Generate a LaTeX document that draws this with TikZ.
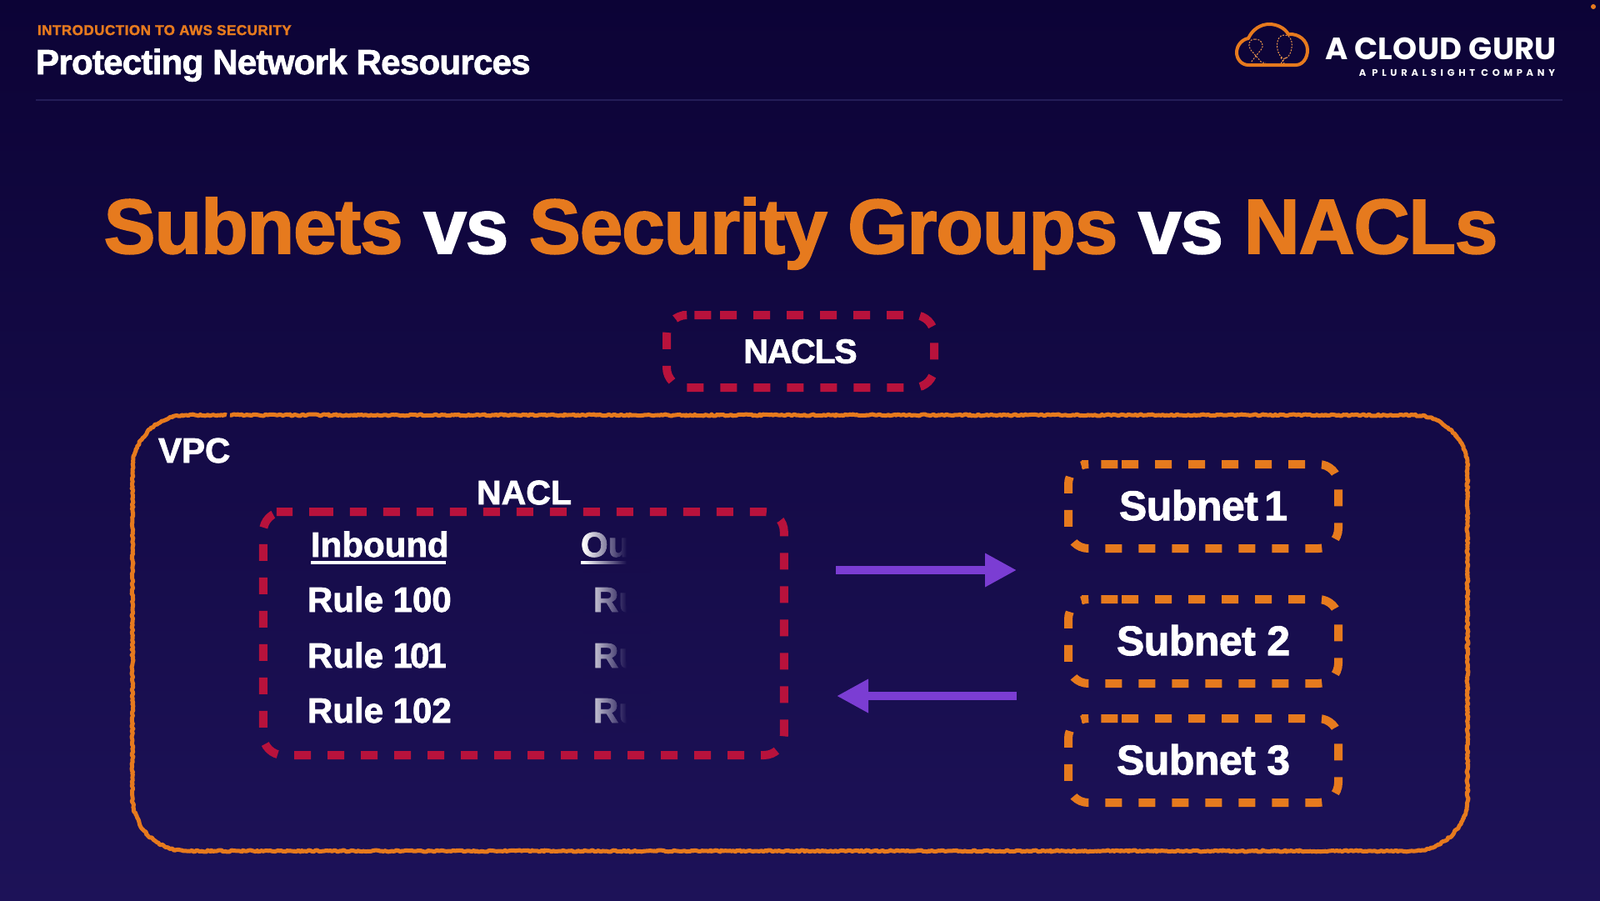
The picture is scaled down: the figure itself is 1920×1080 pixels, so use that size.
\documentclass[tikz,border=0pt]{standalone}
\usepackage{xcolor}
\usepackage{fontspec}
\setmainfont{Liberation Sans}
\setsansfont{Liberation Sans}[BoldFeatures={FakeBold=1.8}]
\newfontfamily\logofont{Poppins}
\usepackage{tikz}
\usetikzlibrary{
    arrows.meta, decorations.pathmorphing, fadings
}
\definecolor{slideTop}{HTML}{0c0336}
\definecolor{slideBottom}{HTML}{1d1258}
\colorlet{wipeTop}{slideBottom!58!slideTop}
\colorlet{wipeBottom}{slideBottom!81!slideTop}
\definecolor{accent}{HTML}{e67a1e}
\definecolor{naclred}{HTML}{b8123c}
\definecolor{flowpurple}{HTML}{7b3dd3}
\definecolor{divider}{HTML}{241d58}

\begin{document}
\begin{tikzpicture}[x=1pt, y=-1pt,
    every node/.style={font=\sffamily\bfseries, text=white, inner sep=0pt, outer sep=0pt},
    dashframe/.style={
        rounded corners=24pt, line width=10pt,
        dash pattern=on 20pt off 20pt,
    },
    subnetbox/.style={
        rectangle, minimum width=324pt, minimum height=101pt, text depth=3pt,
        font=\fontsize{50}{56}\selectfont\sffamily\bfseries\addfontfeature{LetterSpace=-1},
    },
    ruletext/.style={
        anchor=base west,
        font=\fontsize{42}{46}\selectfont\sffamily\bfseries,
    },
    flowarrow/.style={
        draw=flowpurple, line width=10pt,
        -{Triangle[length=38pt, width=38pt]},
    },
]

% ── Slide background ───────────────────────────────────────────────────
\shade[top color=slideTop, bottom color=slideBottom] (0,0) rectangle (1920,1080);
\useasboundingbox (0,0) rectangle (1920,1080);

% ── Header ─────────────────────────────────────────────────────────────
\node[anchor=base west, text=accent, font=\fontsize{17}{20}\selectfont\sffamily\bfseries\addfontfeature{LetterSpace=3}]
    (kicker) at (45,42) {INTRODUCTION TO AWS SECURITY};
\node[anchor=base west, font=\fontsize{42}{46}\selectfont\sffamily\bfseries\addfontfeature{LetterSpace=-1.7}]
    (slidetitle) at (43,89) {Protecting Network Resources};
\draw[divider, line width=2pt] (43,120) -- (1875,120);

% ── Logo ───────────────────────────────────────────────────────────────
\draw[accent, line width=4pt, line join=round]
    (1498,78) .. controls (1490,78) and (1484,71) .. (1484,63)
    .. controls (1484,54) and (1491,47) .. (1498,46)
    .. controls (1503,35) and (1513,29) .. (1523,29)
    .. controls (1533,29) and (1542,34) .. (1546,41)
    .. controls (1559,40) and (1569,49) .. (1569,60)
    .. controls (1569,70) and (1563,78) .. (1555,78) -- cycle;
\draw[accent!80, line width=1pt, dash pattern=on 2pt off 1.5pt]
    (1541,42) .. controls (1531,42) and (1530,60) .. (1537,68)
    .. controls (1541,73) and (1546,70) .. (1549,62)
    .. controls (1552,52) and (1550,42) .. (1541,42)
    (1537,69) -- (1541,76) (1543,69) -- (1537,76);
\draw[accent!80, line width=1pt, dash pattern=on 2pt off 1.5pt]
    (1506,47) .. controls (1498,47) and (1497,55) .. (1501,60)
    -- (1514,75) (1506,47) .. controls (1514,47) and (1518,54) .. (1513,60)
    -- (1508,66) -- (1501,75) (1515,75) -- (1519,75);
\node[anchor=base west, font=\fontsize{37}{40}\selectfont\logofont\bfseries\addfontfeature{LetterSpace=0.8}]
    (logoname) at (1590,71) {A CLOUD GURU};
\node[anchor=base east, font=\fontsize{11.5}{13}\selectfont\logofont\bfseries\addfontfeature{LetterSpace=41}]
    (logotag) at (1866,91) {A PLURALSIGHT COMPANY};
\fill[accent] (1912,8) circle (3);

% ── Title ──────────────────────────────────────────────────────────────
\node[anchor=base, font=\fontsize{93}{100}\selectfont\sffamily\bfseries\addfontfeature{LetterSpace=-1.4}]
    (maintitle) at (961,304) {\textcolor{accent}{Subnets} vs \textcolor{accent}{Security Groups} vs \textcolor{accent}{NACLs}};

% ── NACLS key ──────────────────────────────────────────────────────────
\node[minimum width=321pt, minimum height=87pt,
      font=\fontsize{41}{46}\selectfont\sffamily\bfseries\addfontfeature{LetterSpace=-3}] (naclskey) at (960.5,421.5) {NACLS};

% ── VPC frame ──────────────────────────────────────────────────────────
\draw[accent, line width=5pt, line join=round,
      decorate, decoration={random steps, segment length=2pt, amplitude=1pt}]
    (276,498) -- (1696,498) arc[start angle=-90, end angle=0, radius=65]
    -- (1761,956) arc[start angle=0, end angle=90, radius=65]
    -- (224,1021) arc[start angle=90, end angle=180, radius=65]
    -- (159,563) arc[start angle=180, end angle=270, radius=65] -- (272,498);
\node[ruletext] (vpclabel) at (190,555) {VPC};

% ── NACL table ─────────────────────────────────────────────────────────
\node[minimum width=625pt, minimum height=292pt] (naclbody) at (628.3,760) {};
\node[font=\fontsize{41}{46}\selectfont\sffamily\bfseries] (nacllabel) at (629,591) {NACL};

\node[ruletext] (inbound) at (373,668) {Inbound};
\draw[white, line width=4pt] (373,675) -- (535,675);
\node[ruletext] (rule100) at (369,734) {Rule 100};
\node[ruletext] (rule101) at (369,801) {Rule 1\kern-3pt 0\kern-3pt 1};
\node[ruletext] (rule102) at (369,867) {Rule 102};

\node[ruletext] (outbound) at (697,668) {Ou};
\draw[white, line width=4pt] (697,675) -- (752,675);
\node[ruletext] (ruleout1) at (712,734) {Ru};
\node[ruletext] (ruleout2) at (712,801) {Ru};
\node[ruletext] (ruleout3) at (712,867) {Ru};

% Outbound column wipes out to the right
\shade[top color=wipeTop, bottom color=wipeBottom, path fading=west] (700,630) rectangle (752,880);
\shade[top color=wipeTop, bottom color=wipeBottom] (752,630) rectangle (780,880);

% ── Subnets ────────────────────────────────────────────────────────────
\node[subnetbox] (subnet1) at (1444,607.5) {Subnet\kern-6pt\ 1};
\node[subnetbox] (subnet2) at (1444,769.5) {Subnet 2};
\node[subnetbox] (subnet3) at (1444,912.5) {Subnet 3};

% ── Dashed frames ──────────────────────────────────────────────────────
\foreach \boxname/\boxcolor in {naclskey/naclred, naclbody/naclred,
                                subnet1/accent, subnet2/accent, subnet3/accent} {
    \draw[dashframe, \boxcolor] ([xshift=40pt]\boxname.north west) -- (\boxname.north east)
        -- (\boxname.south east) -- (\boxname.south west) -- (\boxname.north west) -- cycle;
}

% ── Traffic arrows ─────────────────────────────────────────────────────
\coordinate (flowAleft)  at (1003,684);
\coordinate (flowAright) at (1220,684);
\coordinate (flowBright) at (1220,835);
\coordinate (flowBleft)  at (1004,835);
\draw[flowarrow] (flowAleft) -- (flowAright);
\draw[flowarrow] (flowBright) -- (flowBleft);

\end{tikzpicture}
\end{document}
